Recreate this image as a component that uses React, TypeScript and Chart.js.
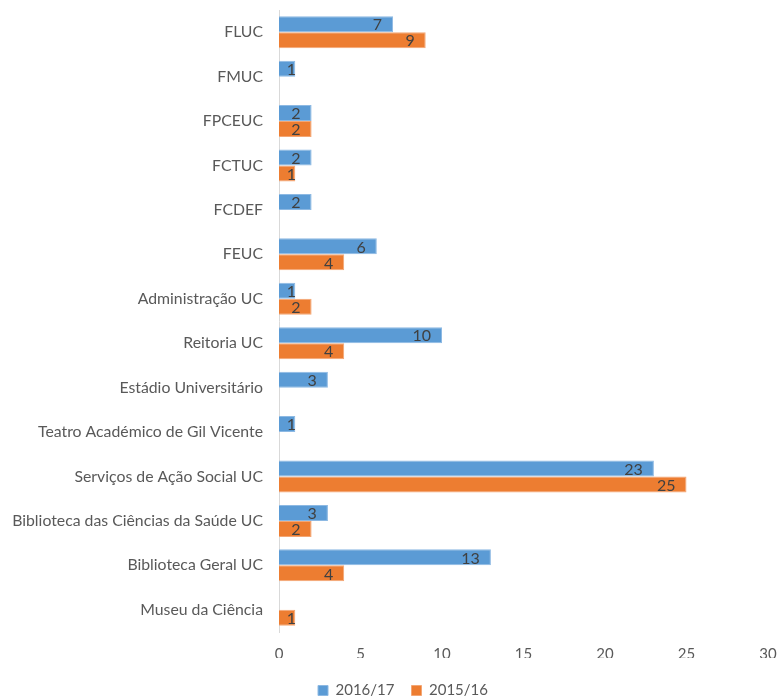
import React, { useEffect, useRef } from "react";
import { Chart, registerables } from "chart.js";

Chart.register(...registerables);

const categories = [
  "FLUC",
  "FMUC",
  "FPCEUC",
  "FCTUC",
  "FCDEF",
  "FEUC",
  "Administração UC",
  "Reitoria UC",
  "Estádio Universitário",
  "Teatro Académico de Gil Vicente",
  "Serviços de Ação Social UC",
  "Biblioteca das Ciências da Saúde UC",
  "Biblioteca Geral UC",
  "Museu da Ciência",
];

const series2016: (number | null)[] = [7, 1, 2, 2, 2, 6, 1, 10, 3, 1, 23, 3, 13, null];
const series2015: (number | null)[] = [9, null, 2, 1, null, 4, 2, 4, null, null, 25, 2, 4, 1];

const seriesNames = ["2016/17", "2015/16"];
const xTicks = [0, 5, 10, 15, 20, 25, 30];

const FONT = "Lato, 'Open Sans', sans-serif";

const labelPlugin = {
  id: "insideEndLabels",
  afterDatasetsDraw(chart: any) {
    const ctx = chart.ctx;
    ctx.save();
    ctx.font = `16px ${FONT}`;
    ctx.fillStyle = "#404040";
    ctx.textAlign = "right";
    ctx.textBaseline = "middle";
    chart.data.datasets.forEach((ds: any, di: number) => {
      const meta = chart.getDatasetMeta(di);
      meta.data.forEach((el: any, i: number) => {
        const v = ds.data[i];
        if (v === null || v === undefined) return;
        const txt = String(v);
        const right = Math.max(el.x - 11, el.base + 17);
        ctx.fillText(txt, right, el.y + 1);
      });
    });
    ctx.restore();
  },
};

const legendShift = {
  id: "legendShift",
  afterLayout(chart: any) {
    const lg = chart.legend;
    if (lg) {
      lg.left += 19;
      lg.right += 19;
      lg.top += 8;
      lg.bottom += 8;
    }
  },
};

export default function App() {
  const ref = useRef<HTMLCanvasElement | null>(null);

  useEffect(() => {
    if (!ref.current) return;
    const chart = new Chart(ref.current, {
      type: "bar",
      data: {
        labels: categories,
        datasets: [
          {
            label: seriesNames[0],
            data: series2016,
            backgroundColor: "#5B9BD5",
            borderColor: "#8DB9E3",
            borderWidth: 1,
            categoryPercentage: 0.72,
            barPercentage: 1,
          },
          {
            label: seriesNames[1],
            data: series2015,
            backgroundColor: "#ED7D31",
            borderColor: "#F3A674",
            borderWidth: 1,
            categoryPercentage: 0.72,
            barPercentage: 1,
          },
        ],
      },
      options: {
        indexAxis: "y",
        animation: false,
        responsive: false,
        maintainAspectRatio: false,
        layout: { padding: { top: 10, left: 0, right: 11, bottom: 0 } },
        plugins: {
          legend: {
            position: "bottom",
            labels: {
              boxWidth: 10,
              boxHeight: 10,
              padding: 17,
              color: "#595959",
              font: { family: FONT, size: 15 },
            },
          },
          tooltip: { enabled: false },
        },
        scales: {
          x: {
            min: 0,
            max: 30,
            afterBuildTicks: (scale: any) => {
              scale.ticks = xTicks.map((v) => ({ value: v }));
            },
            grid: { display: false, drawTicks: false },
            border: { display: false },
            ticks: {
              color: "#595959",
              padding: 13,
              font: { family: FONT, size: 15 },
              maxRotation: 0,
            },
            afterFit: (scale: any) => {
              scale.height = 26;
              scale.paddingLeft = 0;
              scale.paddingRight = 0;
            },
          },
          y: {
            grid: { display: false, drawTicks: false },
            border: { display: true, color: "#D9D9D9", width: 1 },
            ticks: {
              color: "#595959",
              padding: 16,
              font: { family: FONT, size: 15.8 },
              autoSkip: false,
            },
            afterFit: (scale: any) => {
              scale.width = 279;
              scale.paddingTop = 0;
              scale.paddingBottom = 0;
            },
          },
        },
      },
      plugins: [labelPlugin, legendShift],
    });
    return () => chart.destroy();
  }, []);

  return (
    <div style={{ position: "absolute", left: 0, top: 0, width: 779, height: 700, background: "#fff" }}>
      <canvas ref={ref} width={779} height={700} style={{ width: 779, height: 700 }} />
    </div>
  );
}
